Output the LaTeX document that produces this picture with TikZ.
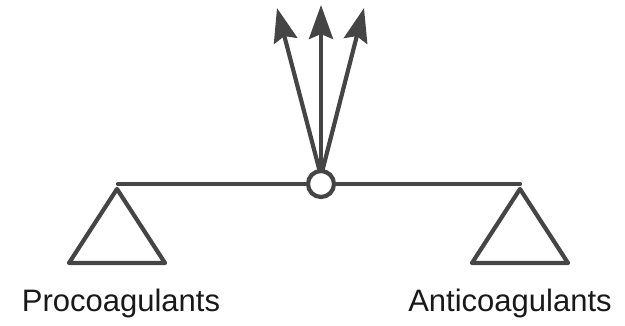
\documentclass[tikz,border=0pt]{standalone}
\usepackage{fontspec}
\setmainfont{Liberation Sans}
\usetikzlibrary{arrows.meta}
\definecolor{ink}{HTML}{454545}
\tikzset{
  bar/.style={draw=ink, line width=4.2pt, line join=round, line cap=round},
  arr/.style={draw=ink, line width=4.2pt, -{Stealth[length=34pt,width=24pt,inset=5pt]}},
  lbl/.style={font=\fontsize{31}{36}\selectfont, text=black!90, anchor=base, inner sep=0pt}
}
\begin{document}
\begin{tikzpicture}[x=1pt,y=-1pt]
\useasboundingbox (0,0) rectangle (625,326);
% pivot and arrows
\coordinate (piv) at (321,184);
\coordinate (src) at (321,176);
\coordinate (tl) at (277,8);
\coordinate (tm) at (321,5);
\coordinate (tr) at (364,8);
\draw[arr] (src) -- (tl);
\draw[arr] (src) -- (tm);
\draw[arr] (src) -- (tr);
% beam
\coordinate (bl) at (118,184);
\coordinate (br) at (520,184);
\draw[bar] (bl) -- (br);
\node[circle, draw=ink, fill=white, line width=4.2pt, minimum size=26pt, inner sep=0pt] (pc) at (piv) {};
% triangles
\draw[bar] (117,189) -- (69,263) -- (165,263) -- cycle;
\draw[bar] (520,189) -- (472,263) -- (568,263) -- cycle;
% labels
\node[lbl] (pro) at (121,312) {Procoagulants};
\node[lbl] (anti) at (510,312) {Anticoagulants};
\end{tikzpicture}
\end{document}
